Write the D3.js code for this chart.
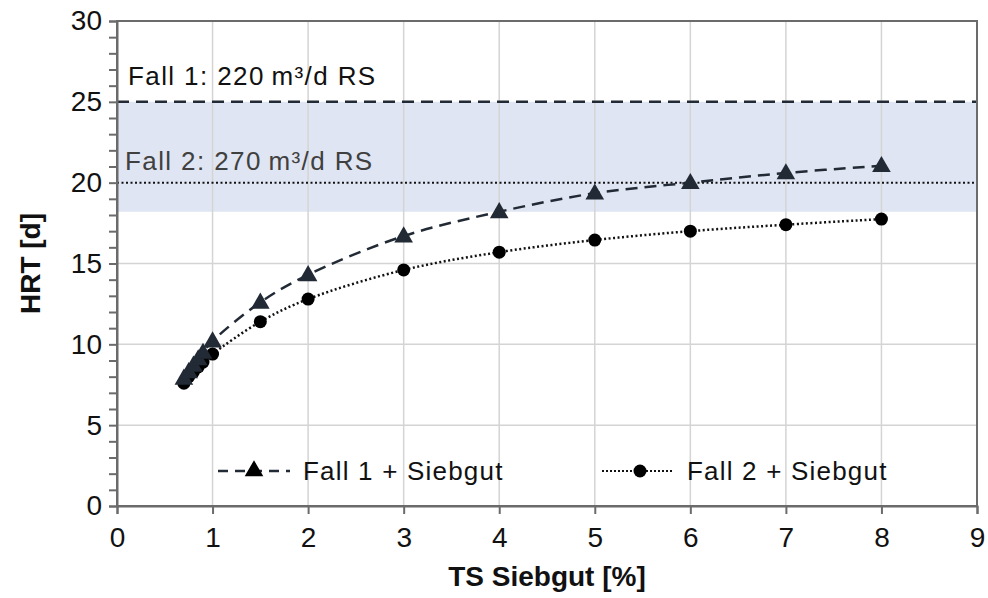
<!DOCTYPE html>
<html>
<head>
<meta charset="utf-8">
<script src="https://cdn.jsdelivr.net/npm/d3@7"></script>
<style>
  body { margin: 0; background: #fff; }
  svg { display: block; font-family: "Liberation Sans", Arial, sans-serif; }
</style>
</head>
<body>
<svg width="988" height="598"></svg>
<script>
const tsValues = [0.7, 0.75, 0.8, 0.85, 0.9, 1, 1.5, 2, 3, 4, 5, 6, 7, 8];
const fall1 = [7.9, 8.3, 8.7, 9.1, 9.5, 10.2, 12.6, 14.3, 16.7, 18.2, 19.35, 20.0, 20.6, 21.05];
const fall2 = [7.6, 8.0, 8.3, 8.6, 8.9, 9.4, 11.4, 12.8, 14.6, 15.7, 16.45, 17.0, 17.4, 17.75];
const xTicks = [0, 1, 2, 3, 4, 5, 6, 7, 8, 9];
const yTicks = [0, 5, 10, 15, 20, 25, 30];
const limit1 = 25, limit2 = 20, bandLow = 18.2;

const width = 988, height = 598;
const margin = {top: 21, right: 11, bottom: 92, left: 117};

const svg = d3.select('svg');

const x = d3.scaleLinear().domain([0, 9]).range([margin.left, width - margin.right]);
const y = d3.scaleLinear().domain([0, 30]).range([height - margin.bottom, margin.top]);

const axisColor = '#6b6b6b';
const dark = '#222a35';

// shaded band
svg.append('rect')
  .attr('x', x(0)).attr('y', y(limit1))
  .attr('width', x(9) - x(0)).attr('height', y(bandLow) - y(limit1))
  .attr('fill', '#dfe5f2');

// grid
svg.append('g').selectAll('line')
  .data(xTicks.slice(1, -1))
  .enter().append('line')
  .attr('x1', d => x(d)).attr('x2', d => x(d))
  .attr('y1', y(0)).attr('y2', y(30))
  .attr('stroke', '#d4d4d4').attr('stroke-width', 1.5);

svg.append('g').selectAll('line')
  .data([5, 10, 15])
  .enter().append('line')
  .attr('x1', x(0)).attr('x2', x(9))
  .attr('y1', d => y(d)).attr('y2', d => y(d))
  .attr('stroke', '#d4d4d4').attr('stroke-width', 1.5);

// reference lines
svg.append('line')
  .attr('x1', x(0)).attr('x2', x(9))
  .attr('y1', y(limit1)).attr('y2', y(limit1))
  .attr('stroke', dark).attr('stroke-width', 2.5)
  .attr('stroke-dasharray', '12,7');

svg.append('line')
  .attr('x1', x(0)).attr('x2', x(9))
  .attr('y1', y(limit2)).attr('y2', y(limit2))
  .attr('stroke', '#111').attr('stroke-width', 2)
  .attr('stroke-dasharray', '2,2.5');

svg.append('text')
  .attr('x', 128).attr('y', y(limit1) - 17)
  .attr('font-size', 26).attr('letter-spacing', 1.4).attr('fill', '#111')
  .text('Fall 1: 220\u2009m³/d RS');

svg.append('text')
  .attr('x', 125).attr('y', y(limit2) - 13)
  .attr('font-size', 26).attr('letter-spacing', 1.4).attr('fill', '#404040')
  .text('Fall 2: 270\u2009m³/d RS');

// frame
svg.append('rect')
  .attr('x', x(0)).attr('y', y(30))
  .attr('width', x(9) - x(0)).attr('height', y(0) - y(30))
  .attr('fill', 'none').attr('stroke', axisColor).attr('stroke-width', 2);

// axes
const xAxis = svg.append('g')
  .attr('transform', `translate(0,${y(0)})`)
  .call(d3.axisBottom(x).tickValues(xTicks).tickSize(8).tickPadding(13).tickFormat(d3.format('d')));

const yAxis = svg.append('g')
  .attr('transform', `translate(${x(0)},0)`)
  .call(d3.axisLeft(y).tickValues(d3.range(0, 31, 1)).tickSize(8).tickPadding(7)
    .tickFormat(d => yTicks.includes(d) ? d : ''));

[xAxis, yAxis].forEach(a => {
  a.select('.domain').attr('stroke', axisColor).attr('stroke-width', 2);
  a.selectAll('.tick line').attr('stroke', axisColor).attr('stroke-width', 2);
  a.selectAll('.tick text').attr('font-size', 28).attr('fill', '#111')
    .attr('font-family', '"Liberation Sans", Arial, sans-serif');
});

// axis titles
svg.append('text')
  .attr('x', (x(0) + x(9)) / 2).attr('y', 586)
  .attr('text-anchor', 'middle')
  .attr('font-size', 28).attr('font-weight', 'bold').attr('fill', '#111')
  .text('TS Siebgut [%]');

svg.append('text')
  .attr('transform', `translate(40,${(y(0) + y(30)) / 2}) rotate(-90)`)
  .attr('text-anchor', 'middle')
  .attr('font-size', 28).attr('font-weight', 'bold').attr('fill', '#111')
  .text('HRT [d]');

// series
const line = d3.line().curve(d3.curveCatmullRom.alpha(0.5));

svg.append('path')
  .attr('d', line(tsValues.map((t, i) => [x(t), y(fall1[i])])))
  .attr('fill', 'none').attr('stroke', dark).attr('stroke-width', 2.5)
  .attr('stroke-dasharray', '12,7');

svg.append('path')
  .attr('d', line(tsValues.map((t, i) => [x(t), y(fall2[i])])))
  .attr('fill', 'none').attr('stroke', '#111').attr('stroke-width', 2.5)
  .attr('stroke-dasharray', '2,2.5');

const tri = d3.symbol().type(d3.symbolTriangle).size(150);

svg.append('g').selectAll('circle')
  .data(tsValues)
  .enter().append('circle')
  .attr('cx', d => x(d)).attr('cy', (d, i) => y(fall2[i]))
  .attr('r', 6.5).attr('fill', '#000');

svg.append('g').selectAll('path')
  .data(tsValues)
  .enter().append('path')
  .attr('d', tri)
  .attr('transform', (d, i) => `translate(${x(d)},${y(fall1[i]) + 1})`)
  .attr('fill', dark);

// legend
const ly = 471;
svg.append('line')
  .attr('x1', 218).attr('x2', 290).attr('y1', ly).attr('y2', ly)
  .attr('stroke', dark).attr('stroke-width', 2.5).attr('stroke-dasharray', '10,7');
svg.append('path').attr('d', tri).attr('transform', `translate(254,${ly})`).attr('fill', '#000');
svg.append('text').attr('x', 303).attr('y', ly + 9)
  .attr('font-size', 26).attr('letter-spacing', 1.2).attr('fill', '#111').text('Fall 1 + Siebgut');

svg.append('line')
  .attr('x1', 602).attr('x2', 674).attr('y1', ly).attr('y2', ly)
  .attr('stroke', '#111').attr('stroke-width', 2).attr('stroke-dasharray', '2,2');
svg.append('circle').attr('cx', 640).attr('cy', ly).attr('r', 6.5).attr('fill', '#000');
svg.append('text').attr('x', 687).attr('y', ly + 9)
  .attr('font-size', 26).attr('letter-spacing', 1.2).attr('fill', '#111').text('Fall 2 + Siebgut');
</script>
</body>
</html>
